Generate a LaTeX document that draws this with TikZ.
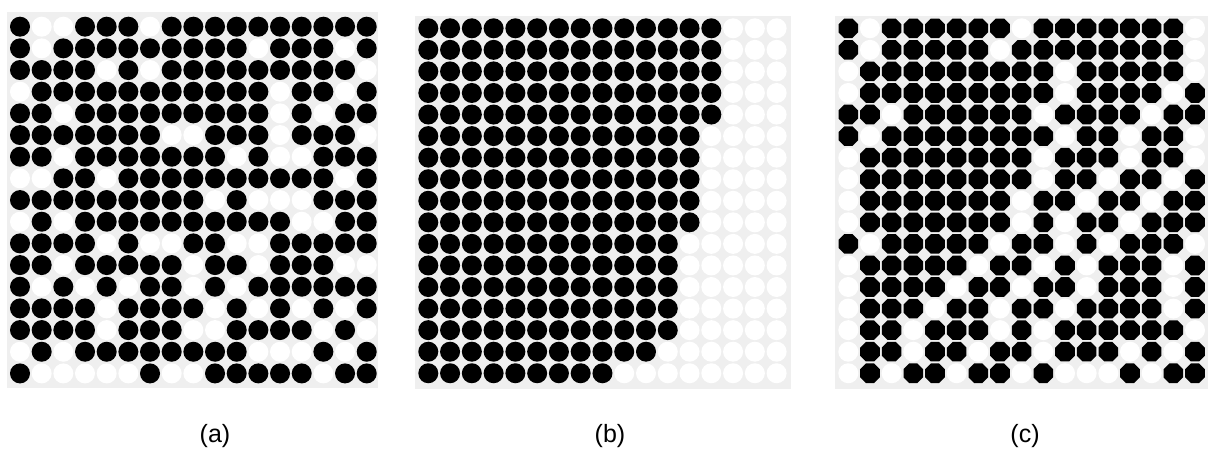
\documentclass[tikz,border=0pt]{standalone}
\usepackage{fontspec}
\setmainfont{Liberation Sans}
\definecolor{bggray}{HTML}{EFEFEF}
\tikzset{
  dotblack/.style={fill=black},
  dotwhite/.style={fill=white},
  panel/.style={fill=bggray},
  caption/.style={font=\fontsize{18.75}{22}\selectfont, inner sep=0pt}
}
\begin{document}
\begin{tikzpicture}[x=0.75pt,y=-0.75pt]
\useasboundingbox (0,0) rectangle (1208,456);
\fill[white] (0,0) rectangle (1208,456);

% ---------- panel (a) ----------
\fill[panel] (7,12) rectangle (378,388);
\foreach \row [count=\r] in {
 {1,0,0,1,1,1,0,1,1,1,1,1,1,1,1,1,1},
 {1,0,1,1,1,1,1,1,1,1,1,0,1,1,1,0,1},
 {1,1,1,1,0,1,0,1,1,1,1,1,1,1,1,1,0},
 {0,1,1,1,1,1,1,1,1,1,1,1,0,1,1,0,1},
 {1,1,0,1,1,1,1,1,1,1,1,1,0,1,0,1,1},
 {1,1,1,1,1,1,1,0,0,1,1,1,0,1,1,1,0},
 {1,1,0,1,1,1,1,1,1,1,0,1,0,0,1,1,1},
 {0,0,1,1,0,1,1,1,1,1,1,1,1,1,1,0,1},
 {1,1,1,1,1,1,1,1,1,0,1,0,0,0,1,1,1},
 {0,1,0,1,1,1,1,1,1,1,1,1,1,0,0,1,1},
 {1,1,1,1,0,1,0,0,1,1,0,0,1,1,1,1,1},
 {1,1,0,1,1,1,1,1,0,1,1,0,1,1,1,0,0},
 {1,0,1,0,1,0,1,1,0,1,0,1,1,1,1,1,1},
 {1,1,1,1,0,1,1,1,1,0,1,0,1,0,1,0,1},
 {1,1,1,1,0,1,1,1,0,0,1,1,1,1,0,1,0},
 {0,1,0,1,1,1,1,1,1,1,1,0,0,0,1,0,1},
 {1,0,0,0,0,0,1,0,0,1,1,1,1,1,0,1,1}}{
  \foreach \v [count=\c] in \row {
    \pgfmathsetmacro\cx{20+21.67*(\c-1)}
    \pgfmathsetmacro\cy{26.7+21.67*(\r-1)}
    \ifnum\v=1 \fill[dotblack] (\cx,\cy) circle (10);
    \else \fill[dotwhite] (\cx,\cy) circle (10); \fi
  }
}

% ---------- panel (b) ----------
\fill[panel] (415,16) rectangle (791,389);
\foreach \n [count=\r] in {14,14,14,14,14,13,13,13,13,13,12,12,12,12,12,11,9}{
  \foreach \c in {1,...,17}{
    \pgfmathsetmacro\cx{428.3+21.77*(\c-1)}
    \pgfmathsetmacro\cy{28.3+21.56*(\r-1)}
    \ifnum\c>\n \fill[dotwhite] (\cx,\cy) circle (10);
    \else \fill[dotblack] (\cx,\cy) circle (10); \fi
  }
}

% ---------- panel (c) ----------
\fill[panel] (835,16) rectangle (1208,389);
\foreach \row [count=\r] in {
 {1,0,1,1,1,1,1,1,0,1,1,1,1,1,1,1,0},
 {1,0,1,1,1,1,1,0,1,1,1,1,1,1,1,1,0},
 {0,1,1,1,1,1,1,1,1,1,0,1,1,1,1,1,0},
 {0,1,1,1,1,1,1,1,1,1,0,1,1,1,1,0,1},
 {1,1,0,1,1,1,1,1,1,0,1,1,1,1,0,1,1},
 {1,0,1,1,1,1,1,1,1,1,0,1,1,0,1,1,0},
 {0,1,1,1,1,1,1,1,1,0,1,1,1,0,1,1,0},
 {0,1,1,1,1,1,1,1,1,0,1,1,0,1,1,0,1},
 {0,1,1,1,1,1,1,1,0,1,1,0,1,1,0,1,1},
 {0,1,1,1,1,1,1,1,0,1,0,1,1,0,1,1,1},
 {1,0,1,1,1,1,1,0,1,1,0,1,0,1,1,1,0},
 {0,1,1,1,1,1,0,1,1,0,1,0,1,1,1,0,1},
 {0,1,1,1,1,0,1,1,0,1,1,0,1,1,1,0,1},
 {0,1,1,1,0,1,1,0,1,1,0,1,1,1,1,0,1},
 {0,1,1,0,1,1,1,0,1,0,1,1,1,1,1,1,0},
 {0,1,1,0,1,1,0,1,1,0,1,1,1,0,1,0,1},
 {0,1,0,1,1,0,1,1,0,1,0,0,0,1,0,1,1}}{
  \foreach \v [count=\c] in \row {
    \pgfmathsetmacro\cx{848.3+21.67*(\c-1)}
    \pgfmathsetmacro\cy{28.3+21.56*(\r-1)}
    \ifnum\v=1
      \fill[dotblack,shift={(\cx,\cy)}] (22.5:10.6) -- (67.5:10.6) -- (112.5:10.6) -- (157.5:10.6)
        -- (202.5:10.6) -- (247.5:10.6) -- (292.5:10.6) -- (337.5:10.6) -- cycle;
    \else \fill[dotwhite] (\cx,\cy) circle (10); \fi
  }
}

% ---------- captions ----------
\node[caption] (la) at (215,436.5) {(a)};
\node[caption] (lb) at (610,436.5) {(b)};
\node[caption] (lc) at (1025,436.5) {(c)};
\end{tikzpicture}
\end{document}
